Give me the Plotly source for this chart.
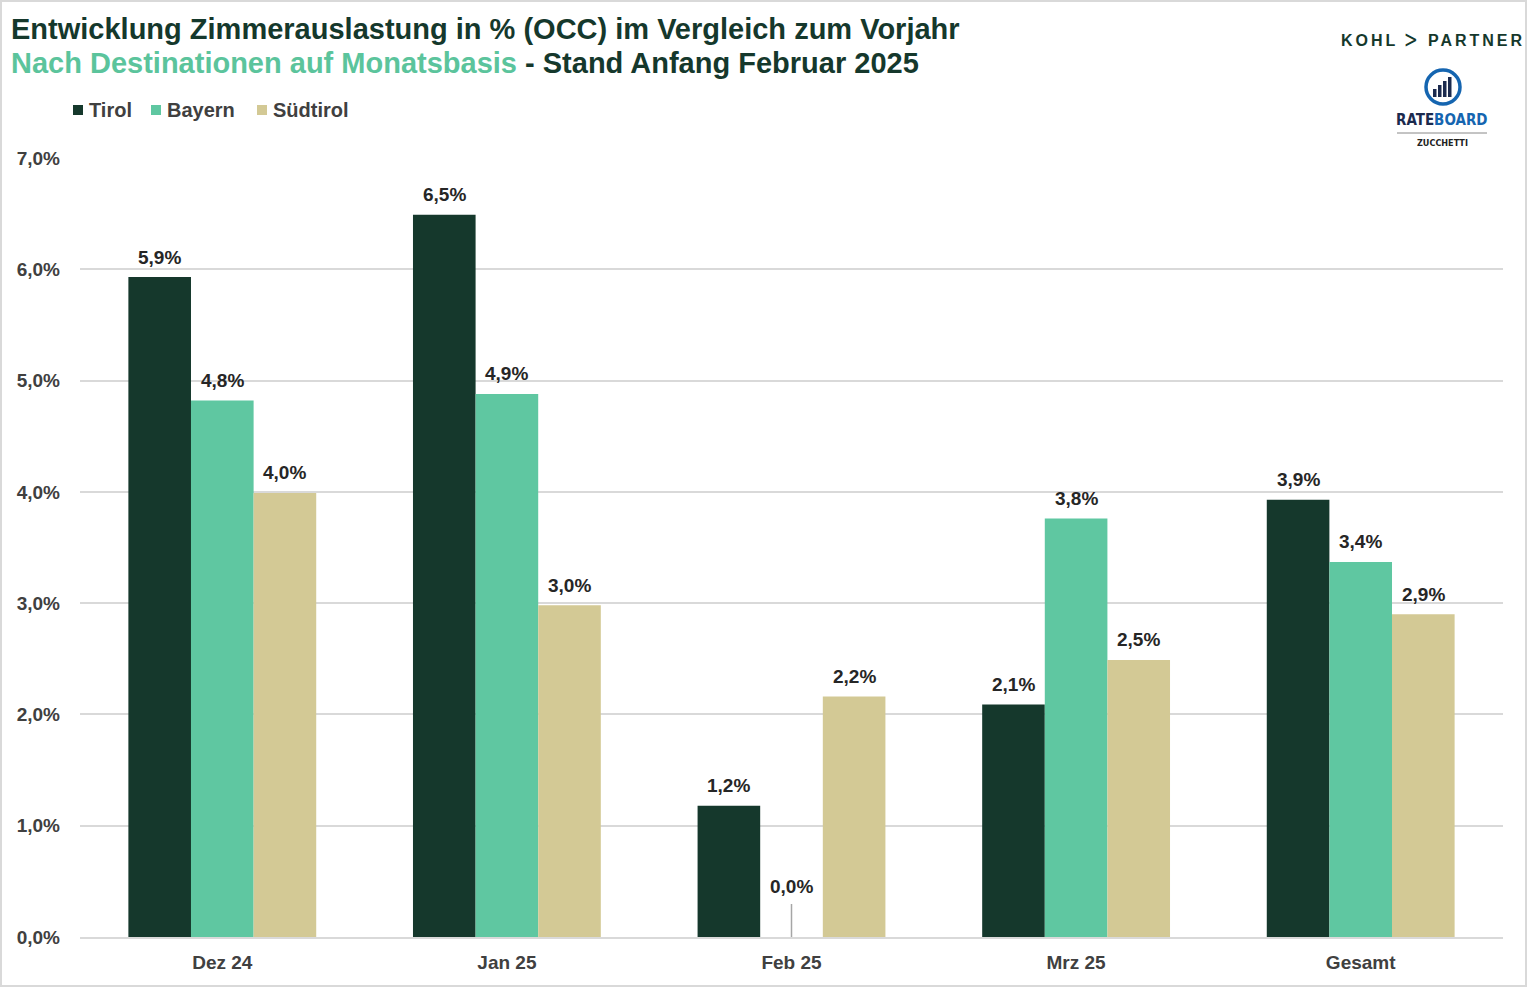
import plotly.graph_objects as go

categories = ["Dez 24", "Jan 25", "Feb 25", "Mrz 25", "Gesamt"]
tirol = [0.0593, 0.0649, 0.0118, 0.0209, 0.0393]
bayern = [0.0482, 0.0488, 0.0000, 0.0376, 0.0337]
suedtirol = [0.0399, 0.0298, 0.0216, 0.0249, 0.0290]
series_names = ["Tirol", "Bayern", "Südtirol"]
colors = ["#15382C", "#5FC7A1", "#D3C995"]

W, H = 1527, 987
L, R, T, B = 80, 24, 158, 50
pw, ph = W - L - R, H - T - B
BARGAP = 0.34
BARW = (1 - BARGAP) / 3

def px_x(x):
    return (x - L) / pw

def px_y(y):
    return (H - B - y) / ph

def fmt(v):
    return f"{v*100:.1f}%".replace(".", ",")

label_font = dict(family="Liberation Sans, Arial", size=19, color="#262626", weight="bold")

fig = go.Figure()
all_series = [tirol, bayern, suedtirol]
for k, (name, vals, col) in enumerate(zip(series_names, all_series, colors)):
    fig.add_trace(go.Bar(
        name=name, x=categories, y=vals,
        marker=dict(color=col, line=dict(width=0)),
        hoverinfo="skip", showlegend=False,
    ))
    off = (k - 1) * BARW
    for i, v in enumerate(vals):
        if v == 0:
            fig.add_annotation(x=i + off, y=v, xref="x", yref="y", text=fmt(v),
                               showarrow=True, arrowhead=0, arrowwidth=1.5, arrowcolor="#A6A6A6",
                               ax=0, ay=-51, standoff=0, startstandoff=6, font=label_font)
        else:
            fig.add_annotation(x=i + off, y=v, xref="x", yref="y", text=fmt(v),
                               showarrow=False, yanchor="middle", yshift=20, font=label_font)

fig.update_layout(
    width=W, height=H,
    margin=dict(l=L, r=R, t=T, b=B),
    paper_bgcolor="white", plot_bgcolor="white",
    separators=",.",
    barmode="group", bargap=BARGAP, bargroupgap=0.0,
    font=dict(family="Liberation Sans, Arial", color="#404040"),
    showlegend=False,
    yaxis=dict(range=[0, 0.07], dtick=0.01, tickformat=".1%", showgrid=True,
               gridcolor="#D9D9D9", gridwidth=2, zeroline=False, showline=False,
               ticks="", ticklabelstandoff=19,
               tickfont=dict(size=19, color="#404040", weight="bold")),
    xaxis=dict(showline=True, linecolor="#D9D9D9", linewidth=2, ticks="",
               ticklabelstandoff=7,
               tickfont=dict(size=19, color="#404040", weight="bold")),
)

# Custom legend
leg_x = [73, 151, 257]
for name, col, lx in zip(series_names, colors, leg_x):
    fig.add_shape(type="rect", xref="paper", yref="paper", x0=px_x(lx), x1=px_x(lx + 10),
                  y0=px_y(105), y1=px_y(115), line=dict(width=0), fillcolor=col)
    fig.add_annotation(xref="paper", yref="paper", x=px_x(lx + 14), y=px_y(110), xanchor="left",
                       yanchor="middle", text=name, showarrow=False,
                       font=dict(size=20, color="#404040", weight="bold"))

# Title
fig.add_annotation(xref="paper", yref="paper", x=px_x(9), y=px_y(29), xanchor="left", yanchor="middle",
                   text="Entwicklung Zimmerauslastung in % (OCC) im Vergleich zum Vorjahr",
                   showarrow=False, font=dict(size=29, color="#15382C", weight="bold"))
fig.add_annotation(xref="paper", yref="paper", x=px_x(9), y=px_y(63), xanchor="left", yanchor="middle",
                   text="<span style='color:#5BC49C'>Nach Destinationen auf Monatsbasis</span> - Stand Anfang Februar 2025",
                   showarrow=False, font=dict(size=29, color="#15382C", weight="bold"))

# Logos
fig.add_annotation(xref="paper", yref="paper", x=px_x(1339), y=px_y(40), xanchor="left", yanchor="middle",
                   text="<span style='letter-spacing:3px'>KOHL ᐳ PARTNER</span>", showarrow=False,
                   font=dict(size=16, color="#15382C", weight="bold"))
fig.add_annotation(xref="paper", yref="paper", x=px_x(1442), y=px_y(120), xanchor="center", yanchor="middle",
                   text="<span style='color:#1B2A4E'>RATE</span><span style='color:#1565B0'>BOARD</span>",
                   showarrow=False, font=dict(family="DejaVu Sans Condensed, Liberation Sans", size=15, weight="bold"))
fig.add_annotation(xref="paper", yref="paper", x=px_x(1442), y=px_y(143), xanchor="center", yanchor="middle",
                   text="ZUCCHETTI", showarrow=False,
                   font=dict(family="DejaVu Sans Condensed, Liberation Sans", size=9, color="#222222", weight="bold"))
fig.add_shape(type="line", xref="paper", yref="paper", x0=px_x(1397), x1=px_x(1487), y0=px_y(133), y1=px_y(133),
              line=dict(color="#888888", width=1))
fig.add_shape(type="circle", xref="paper", yref="paper", x0=px_x(1426), x1=px_x(1460), y0=px_y(70), y1=px_y(104),
              line=dict(color="#1565B0", width=3.5), fillcolor="white")
for bx, bh in [(1433, 8), (1438, 12), (1443, 16), (1448, 20)]:
    fig.add_shape(type="rect", xref="paper", yref="paper", x0=px_x(bx), x1=px_x(bx + 3.5),
                  y0=px_y(97), y1=px_y(97 - bh), line=dict(width=0), fillcolor="#1B2A4E")

# outer border
fig.add_shape(type="rect", xref="paper", yref="paper", x0=px_x(1), x1=px_x(W - 1), y0=px_y(1), y1=px_y(H - 1),
              line=dict(color="#D9D9D9", width=2), layer="below")

fig.write_html("out.html", config={"displayModeBar": False},
               post_script="document.body.style.margin='0';document.body.style.overflow='hidden';")
